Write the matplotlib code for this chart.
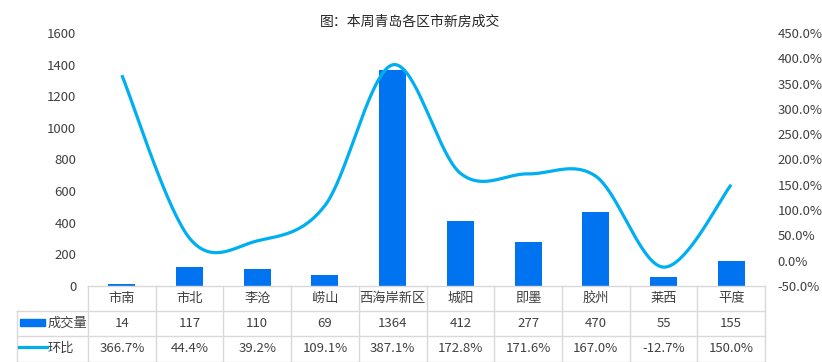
import numpy as np
import matplotlib
matplotlib.use("Agg")
import matplotlib.pyplot as plt
from matplotlib.lines import Line2D
from matplotlib.patches import Rectangle

plt.rcParams['font.family'] = ['Noto Sans CJK SC', 'DejaVu Sans']

title = "图：本周青岛各区市新房成交"
categories = ["市南", "市北", "李沧", "崂山", "西海岸新区", "城阳", "即墨", "胶州", "莱西", "平度"]
volume = [14, 117, 110, 69, 1364, 412, 277, 470, 55, 155]
mom = [366.7, 44.4, 39.2, 109.1, 387.1, 172.8, 171.6, 167.0, -12.7, 150.0]
series_names = ["成交量", "环比"]
left_ticks = [0, 200, 400, 600, 800, 1000, 1200, 1400, 1600]
right_ticks = [-50, 0, 50, 100, 150, 200, 250, 300, 350, 400, 450]

bar_color = "#0073F0"
line_color = "#00AEF2"
grid_color = "#D9D9D9"
text_color = "#404040"

W, H = 822, 362
fig = plt.figure(figsize=(W / 100, H / 100), dpi=100)

x0, x1 = 88, 765
y_top, y_bot = 33, 286
ax = fig.add_axes([x0 / W, 1 - y_bot / H, (x1 - x0) / W, (y_bot - y_top) / H])
ax2 = ax.twinx()

n = len(categories)
xs = np.arange(n)
ax.bar(xs, volume, width=0.4, color=bar_color, zorder=2)
ax.set_xlim(-0.5, n - 0.5)
ax.set_ylim(0, 1600)
ax2.set_ylim(-50, 450)

# smoothed line (Bezier smoothing in screen-proportional space)
col_px = (x1 - x0) / n
pct_px = (y_bot - y_top) / 500.0
px = xs * col_px
py = np.array(mom) * pct_px
pts = np.column_stack([px, py])
curve = []
for i in range(n - 1):
    p0 = pts[i - 1] if i > 0 else pts[i]
    p1 = pts[i]
    p2 = pts[i + 1]
    p3 = pts[i + 2] if i + 2 < n else pts[i + 1]
    c1 = p1 + (p2 - p0) / 6.0
    c2 = p2 - (p3 - p1) / 6.0
    t = np.linspace(0, 1, 40)[:, None]
    seg = ((1 - t) ** 3) * p1 + 3 * ((1 - t) ** 2) * t * c1 + 3 * (1 - t) * t ** 2 * c2 + t ** 3 * p2
    curve.append(seg if i == 0 else seg[1:])
curve = np.vstack(curve)
ax2.plot(curve[:, 0] / col_px, curve[:, 1] / pct_px, color=line_color, lw=2.3, zorder=3,
         solid_capstyle='butt')

for a in (ax, ax2):
    for s in a.spines.values():
        s.set_visible(False)
ax.set_xticks([])
ax.set_yticks(left_ticks)
ax.set_yticklabels([str(v) for v in left_ticks], fontsize=9.5, color=text_color)
ax.tick_params(axis='y', length=0, pad=8.5)
ax2.set_yticks(right_ticks)
ax2.set_yticklabels([f"{v:.1f}%" for v in right_ticks], fontsize=9.5, color=text_color)
ax2.tick_params(axis='y', length=0, pad=9)

fig.text(410 / W, 1 - 22 / H, title, ha='center', va='center', fontsize=10, color="#262626")

# data table
def fx(p):
    return p / W

def fy(p):
    return 1 - p / H

tx0 = 17
lines = []
lines.append(((x0, x1), (286, 286)))
lines.append(((tx0, x1), (311, 311)))
lines.append(((tx0, x1), (336, 336)))
lines.append(((tx0, x1), (361.5, 361.5)))
for i in range(n + 1):
    xx = x0 + i * col_px
    lines.append(((xx, xx), (286, 362)))
lines.append(((tx0, tx0), (311, 362)))
for (lx, ly) in lines:
    fig.add_artist(Line2D([fx(lx[0]), fx(lx[1])], [fy(ly[0]), fy(ly[1])], color=grid_color, lw=1,
                          transform=fig.transFigure))

for i in range(n):
    cx = x0 + (i + 0.5) * col_px
    fig.text(fx(cx), fy(298.5), categories[i], ha='center', va='center', fontsize=9.5, color=text_color)
    fig.text(fx(cx), fy(323.5), str(volume[i]), ha='center', va='center', fontsize=9.5, color=text_color)
    fig.text(fx(cx), fy(348.5), f"{mom[i]:.1f}%", ha='center', va='center', fontsize=9.5, color=text_color)

fig.add_artist(Rectangle((fx(20), fy(326)), (45 - 20) / W, 7 / H, color=bar_color, transform=fig.transFigure))
fig.add_artist(Line2D([fx(19), fx(47)], [fy(347), fy(347)], color=line_color, lw=2.3, transform=fig.transFigure))
fig.text(fx(48), fy(323.5), series_names[0], ha='left', va='center', fontsize=9.5, color=text_color)
fig.text(fx(48), fy(348.5), series_names[1], ha='left', va='center', fontsize=9.5, color=text_color)

fig.savefig("out.png", dpi=100)
